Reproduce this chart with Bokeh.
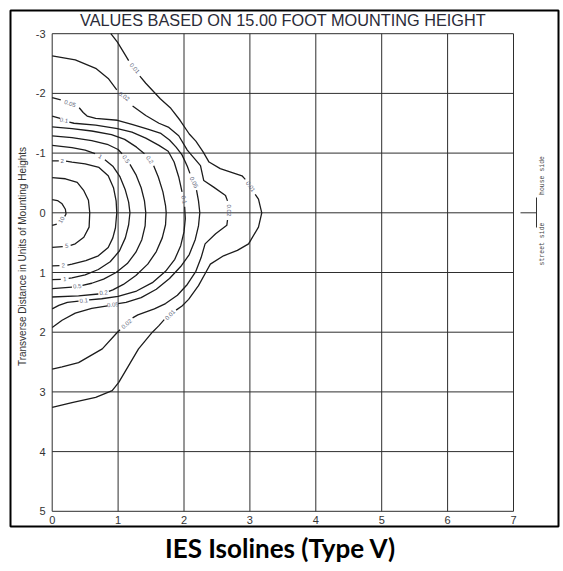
import math
from bokeh.plotting import figure
from bokeh.models import Range1d, ColumnDataSource
from bokeh.core.properties import value
from bokeh.embed import file_html
from bokeh.resources import INLINE

# ---------------- data ----------------
X_TICKS = [0, 1, 2, 3, 4, 5, 6, 7]
Y_TICKS = [-3, -2, -1, 0, 1, 2, 3, 4, 5]
X_TICK_LABELS = ["0", "1", "2", "3", "4", "5", "6", "7"]
Y_TICK_LABELS = ["-3", "-2", "-1", "0", "1", "2", "3", "4", "5"]

TITLE_TOP = "VALUES BASED ON 15.00 FOOT MOUNTING HEIGHT"
TITLE_BOTTOM = "IES Isolines (Type V)"
Y_LABEL = "Transverse Distance in Units of Mounting Heights"
SIDE_LABELS = ["house side", "street side"]

# isolines (footcandle levels), each a list of pieces (broken at the labels)
ISO_10 = [
    [(0, -0.22), (0.08, -0.205), (0.15, -0.15), (0.20, -0.06), (0.21, 0.02), (0.19, 0.06)],
    [(0.07, 0.19), (0.0, 0.21)],
]
ISO_5 = [
    [(0, -0.59), (0.20, -0.57), (0.38, -0.51), (0.48, -0.37), (0.55, -0.21), (0.57, 0),
     (0.56, 0.24), (0.48, 0.41), (0.35, 0.52), (0.28, 0.545)],
    [(0.16, 0.565), (0, 0.58)],
]
ISO_2 = [
    [(0, -0.87), (0.10, -0.87)],
    [(0.21, -0.865), (0.30, -0.85), (0.5, -0.82), (0.71, -0.76), (0.85, -0.62), (0.93, -0.42),
     (0.97, -0.2), (0.98, 0), (0.96, 0.25), (0.92, 0.42), (0.85, 0.58), (0.7, 0.72),
     (0.51, 0.80), (0.3, 0.86), (0.23, 0.875)],
    [(0.11, 0.885), (0, 0.89)],
]
ISO_1 = [
    [(0, -1.13), (0.3, -1.09), (0.5, -1.05), (0.65, -0.99)],
    [(0.8, -0.89), (0.92, -0.78), (1.03, -0.6), (1.11, -0.38), (1.16, -0.18), (1.18, 0),
     (1.16, 0.2), (1.11, 0.42), (1.02, 0.64), (0.88, 0.82), (0.7, 0.95), (0.5, 1.04),
     (0.3, 1.09), (0.25, 1.10)],
    [(0.13, 1.115), (0, 1.12)],
]
ISO_05 = [
    [(0, -1.29), (0.3, -1.26), (0.6, -1.21), (0.85, -1.14), (1.0, -1.06), (1.06, -0.99)],
    [(1.18, -0.81), (1.27, -0.64), (1.35, -0.42), (1.40, -0.2), (1.42, 0), (1.41, 0.22),
     (1.36, 0.45), (1.27, 0.66), (1.14, 0.85), (0.97, 1.0), (0.78, 1.11), (0.6, 1.18),
     (0.46, 1.215)],
    [(0.30, 1.245), (0, 1.27)],
]
ISO_02 = [
    [(0, -1.44), (0.3, -1.41), (0.6, -1.37), (0.9, -1.31), (1.1, -1.23), (1.28, -1.10),
     (1.40, -0.99)],
    [(1.54, -0.79), (1.61, -0.6), (1.68, -0.35), (1.72, -0.12), (1.73, 0), (1.72, 0.2),
     (1.67, 0.42), (1.58, 0.65), (1.45, 0.86), (1.27, 1.05), (1.08, 1.2), (0.92, 1.29),
     (0.86, 1.315)],
    [(0.70, 1.36), (0.4, 1.39), (0, 1.41)],
]
ISO_01 = [
    [(0, -1.62), (0.12, -1.58)],
    [(0.26, -1.52), (0.33, -1.50), (0.66, -1.47), (0.99, -1.41), (1.21, -1.35), (1.42, -1.25),
     (1.62, -1.13), (1.76, -1.03), (1.85, -0.85), (1.92, -0.6), (1.97, -0.35)],
    [(2.01, -0.1), (2.02, 0.1), (2.0, 0.32), (1.95, 0.55), (1.86, 0.78), (1.72, 0.98),
     (1.52, 1.17), (1.28, 1.31), (1.0, 1.40), (0.75, 1.44), (0.56, 1.46)],
    [(0.40, 1.48), (0.23, 1.50), (0.1, 1.55), (0, 1.61)],
]
ISO_005 = [
    [(0, -1.93), (0.13, -1.89)],
    [(0.41, -1.76), (0.47, -1.68), (0.53, -1.62), (0.66, -1.58), (0.99, -1.55), (1.21, -1.48),
     (1.45, -1.40), (1.65, -1.33), (1.78, -1.22), (1.88, -1.10), (1.97, -0.97), (2.05, -0.78),
     (2.09, -0.66)],
    [(2.19, -0.38), (2.22, -0.2), (2.24, 0), (2.22, 0.22), (2.17, 0.45), (2.08, 0.7),
     (1.95, 0.9), (1.78, 1.1), (1.58, 1.28), (1.35, 1.42), (1.12, 1.5), (1.0, 1.52)],
    [(0.84, 1.56), (0.6, 1.6), (0.35, 1.68), (0.15, 1.8), (0, 1.92)],
]
ISO_002 = [
    [(0, -2.63), (0.35, -2.56), (0.66, -2.42), (0.85, -2.25), (0.98, -2.06)],
    [(1.22, -1.79), (1.42, -1.63), (1.62, -1.50), (1.77, -1.43), (1.92, -1.29), (2.05, -1.05),
     (2.15, -0.92), (2.25, -0.79), (2.30, -0.54), (2.45, -0.43), (2.63, -0.29), (2.66, -0.2)],
    [(2.66, 0.12), (2.65, 0.21), (2.48, 0.35), (2.32, 0.52), (2.26, 0.75), (2.18, 0.98),
     (2.05, 1.2), (1.90, 1.38), (1.72, 1.52), (1.55, 1.61), (1.30, 1.71), (1.22, 1.76)],
    [(1.03, 1.96), (0.99, 2.0), (0.76, 2.28), (0.40, 2.51), (0.15, 2.58), (0, 2.62)],
]
ISO_001 = [
    [(0.89, -3.0), (0.99, -2.86), (1.11, -2.64), (1.16, -2.55)],
    [(1.33, -2.29), (1.42, -2.17), (1.64, -1.91), (1.80, -1.75), (1.94, -1.55), (2.08, -1.32),
     (2.18, -1.20), (2.29, -1.02), (2.38, -0.85), (2.55, -0.74), (2.88, -0.62), (2.93, -0.56)],
    [(3.08, -0.31), (3.13, -0.23), (3.18, 0), (3.13, 0.24), (2.98, 0.52), (2.81, 0.63),
     (2.60, 0.72), (2.40, 0.86), (2.33, 1.0), (2.22, 1.22), (2.07, 1.45), (1.97, 1.56),
     (1.88, 1.63)],
    [(1.70, 1.79), (1.62, 1.89), (1.52, 2.0), (1.31, 2.28), (1.16, 2.56), (1.01, 2.84),
     (0.91, 2.98), (0.66, 3.09), (0.30, 3.18), (0, 3.26)],
]
ISOLINES = [ISO_10, ISO_5, ISO_2, ISO_1, ISO_05, ISO_02, ISO_01, ISO_005, ISO_002, ISO_001]

# contour value labels
LABEL_TEXT = ["0.01", "0.02", "0.05", "0.1", "2", "1", "0.5", "0.2", "0.05", "0.1", "0.01", "0.02",
              "10", "5", "2", "1", "0.5", "0.2", "0.1", "0.05", "0.02", "0.01"]
LABEL_X = [1.25, 1.09, 0.27, 0.18, 0.15, 0.73, 1.12, 1.48, 2.15, 2.0, 3.01, 2.68,
           0.14, 0.22, 0.17, 0.19, 0.38, 0.78, 0.48, 0.92, 1.13, 1.79]
LABEL_Y = [-2.42, -1.95, -1.83, -1.55, -0.87, -0.94, -0.90, -0.89, -0.51, -0.22, -0.44, -0.04,
           0.12, 0.555, 0.88, 1.11, 1.23, 1.34, 1.47, 1.54, 1.86, 1.71]
LABEL_ANGLE_DEG = [-50, -35, -20, -10, 0, -30, -55, -55, -65, -80, -55, -90,
                   60, 5, 3, 3, 5, 8, 5, 5, 40, 45]

# ---------------- layout constants (pixels of the 560x568 canvas) ----------------
W, H = 560, 568
PX0, PX_UNIT = 51.7, 65.9      # canvas x of data x=0, pixels per unit
PY0, PY_UNIT = 212.3, 59.7     # canvas y of data y=0, pixels per unit (downwards)


def dx(px):
    return (px - PX0) / PX_UNIT


def dy(py):
    return (py - PY0) / PY_UNIT


p = figure(width=W, height=H, x_range=Range1d(dx(0), dx(W)), y_range=Range1d(dy(H), dy(0)),
           output_backend="svg", toolbar_location=None, title=None,
           x_axis_type=None, y_axis_type=None, min_border=0)
p.xgrid.visible = False
p.ygrid.visible = False
p.outline_line_color = None
p.background_fill_color = "white"
p.border_fill_color = "white"

# outer border box
p.quad(left=[dx(10)], right=[dx(558)], top=[dy(10)], bottom=[dy(526)],
       fill_color=None, line_color="black", line_width=2)

# grid
x0, x1 = X_TICKS[0], X_TICKS[-1]
y0, y1 = Y_TICKS[0], Y_TICKS[-1]
p.segment(x0=X_TICKS, x1=X_TICKS, y0=[y0] * len(X_TICKS), y1=[y1] * len(X_TICKS),
          line_color="#2e2e2e", line_width=1)
p.segment(x0=[x0] * len(Y_TICKS), x1=[x1] * len(Y_TICKS), y0=Y_TICKS, y1=Y_TICKS,
          line_color="#2e2e2e", line_width=1)

# tick labels
p.text(x=[dx(45)] * len(Y_TICKS), y=Y_TICKS, text=Y_TICK_LABELS,
       text_font=value("Liberation Sans"), text_font_size="11px", text_color="#333333",
       text_align="right", text_baseline="middle")
p.text(x=X_TICKS, y=[dy(515.5)] * len(X_TICKS), text=X_TICK_LABELS,
       text_font=value("Liberation Sans"), text_font_size="11px", text_color="#333333",
       text_align="center", text_baseline="top")

# isolines
xs, ys = [], []
for iso in ISOLINES:
    for piece in iso:
        xs.append([pt[0] for pt in piece])
        ys.append([pt[1] for pt in piece])
p.multi_line(xs=xs, ys=ys, line_color="#1c1c1c", line_width=1.3)

lab_src = ColumnDataSource(dict(x=LABEL_X, y=LABEL_Y, text=LABEL_TEXT,
                                angle=[math.radians(a) for a in LABEL_ANGLE_DEG]))
p.text(x="x", y="y", text="text", angle="angle", source=lab_src,
       text_font=value("Liberation Sans"), text_font_size="6px", text_color="#5a5f78",
       text_align="center", text_baseline="middle")

# titles and axis label
p.text(x=[dx(282.5)], y=[dy(19)], text=[TITLE_TOP], text_font=value("Liberation Sans"),
       text_font_size="16.3px", text_color="#2b2b38", text_align="center",
       text_baseline="middle")
p.text(x=[dx(280)], y=[dy(547)], text=[TITLE_BOTTOM], text_font=value("Lato"),
       text_font_style="bold", text_font_size="26px", text_color="black",
       text_align="center", text_baseline="middle")
p.text(x=[dx(22)], y=[dy(256)], text=[Y_LABEL], angle=math.pi / 2,
       text_font=value("Liberation Sans"), text_font_size="10px", text_color="#333333",
       text_align="center", text_baseline="middle")

# house / street side marker
p.segment(x0=[dx(520)], x1=[dx(536)], y0=[0], y1=[0], line_color="#333333", line_width=1)
p.segment(x0=[dx(536)], x1=[dx(536)], y0=[dy(197)], y1=[dy(227)], line_color="#333333",
          line_width=1)
p.text(x=[dx(541.5)] * 2, y=[dy(175), dy(243.5)], text=SIDE_LABELS, angle=math.pi / 2,
       text_font=value("Liberation Mono"), text_font_size="6.5px", text_color="#444444",
       text_align="center", text_baseline="middle")

open("out.html", "w").write(file_html(p, INLINE))
